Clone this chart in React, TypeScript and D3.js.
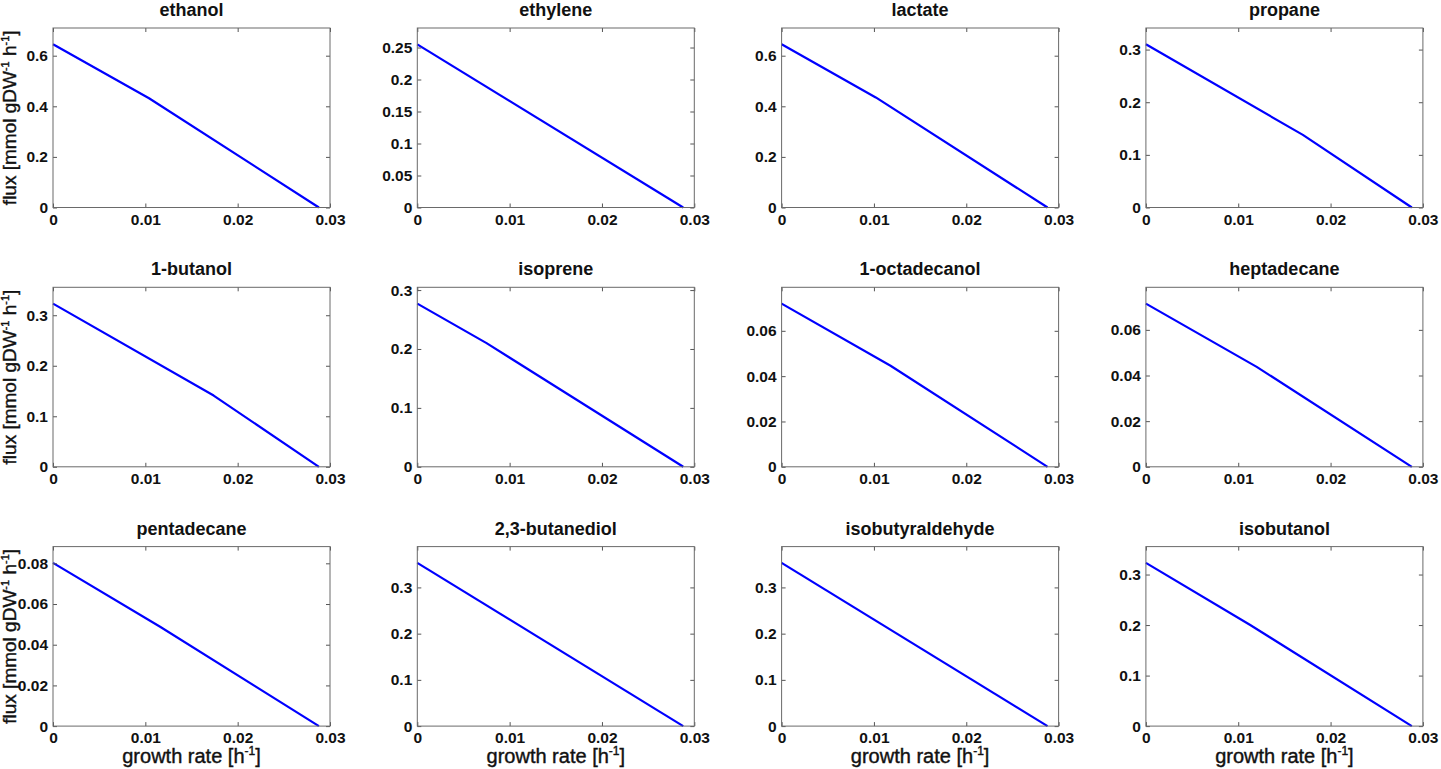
import React, { useEffect, useRef } from "react";
import * as d3 from "d3";

const products = [
  "ethanol", "ethylene", "lactate", "propane",
  "1-butanol", "isoprene", "1-octadecanol", "heptadecane",
  "pentadecane", "2,3-butanediol", "isobutyraldehyde", "isobutanol",
];

// growth rate [1/h] at each breakpoint of the curve
const growthRates: number[][] = [
  [0, 0.0104, 0.0288],
  [0, 0.0288],
  [0, 0.0102, 0.0288],
  [0, 0.017, 0.0288],
  [0, 0.0174, 0.0288],
  [0, 0.0075, 0.0288],
  [0, 0.0118, 0.0288],
  [0, 0.012, 0.0288],
  [0, 0.0116, 0.0288],
  [0, 0.0288],
  [0, 0.0288],
  [0, 0.0113, 0.0288],
];

// product flux [mmol/gDW/h] at those breakpoints
const fluxes: number[][] = [
  [0.645, 0.432, 0],
  [0.255, 0],
  [0.645, 0.435, 0],
  [0.31, 0.138, 0],
  [0.323, 0.141, 0],
  [0.277, 0.21, 0],
  [0.072, 0.0446, 0],
  [0.0715, 0.0438, 0],
  [0.0802, 0.0488, 0],
  [0.353, 0],
  [0.353, 0],
  [0.323, 0.2, 0],
];

const yTicks: number[][] = [
  [0, 0.2, 0.4, 0.6],
  [0, 0.05, 0.1, 0.15, 0.2, 0.25],
  [0, 0.2, 0.4, 0.6],
  [0, 0.1, 0.2, 0.3],
  [0, 0.1, 0.2, 0.3],
  [0, 0.1, 0.2, 0.3],
  [0, 0.02, 0.04, 0.06],
  [0, 0.02, 0.04, 0.06],
  [0, 0.02, 0.04, 0.06, 0.08],
  [0, 0.1, 0.2, 0.3],
  [0, 0.1, 0.2, 0.3],
  [0, 0.1, 0.2, 0.3],
];

const xTicks = [0, 0.01, 0.02, 0.03];
const xDomain: [number, number] = [0, 0.03];

const W = 1441;
const H = 769;
const FONT = "'Liberation Sans', Arial, Helvetica, sans-serif";

const App: React.FC = () => {
  const svgRef = useRef<SVGSVGElement>(null);

  useEffect(() => {
    if (!svgRef.current) return;
    const svg = d3.select(svgRef.current);
    svg.selectAll("*").remove();

    const left0 = 53, colStep = 364.3, pw = 277;
    const top0 = 28, rowStep = 259.3, ph = 179.5;
    const tickLen = 4;
    const fmt = (d: d3.NumberValue) => `${+(+d).toFixed(4)}`;

    products.forEach((name, i) => {
      const col = i % 4;
      const row = Math.floor(i / 4);
      const g = svg.append("g")
        .attr("transform", `translate(${left0 + col * colStep},${top0 + row * rowStep})`);

      const xs = growthRates[i];
      const ys = fluxes[i];
      const pts = xs.map((x, k) => [x, ys[k]] as [number, number]);

      const x = d3.scaleLinear().domain(xDomain).range([0, pw]);
      const y = d3.scaleLinear().domain([0, 1.1 * (d3.max(ys) ?? 1)]).range([ph, 0]);

      g.append("rect")
        .attr("width", pw).attr("height", ph)
        .attr("fill", "#fff");

      // line
      g.append("path")
        .datum(pts)
        .attr("fill", "none")
        .attr("stroke", "#0000ff")
        .attr("stroke-width", 2.2)
        .attr("stroke-linejoin", "round")
        .attr("d", d3.line<[number, number]>().x(d => x(d[0])).y(d => y(d[1])));

      const styleAxis = (sel: d3.Selection<SVGGElement, unknown, null, undefined>, labels: boolean) => {
        sel.select(".domain").remove();
        sel.selectAll(".tick line").attr("stroke", "#555");
        if (!labels) sel.selectAll(".tick text").remove();
        sel.selectAll(".tick text")
          .attr("fill", "#111")
          .style("font-family", FONT)
          .style("font-size", "15.5px")
          .style("font-weight", "bold");
      };

      g.append("g")
        .attr("transform", `translate(0,${ph})`)
        .call(d3.axisBottom(x).tickValues(xTicks).tickFormat(fmt).tickSizeInner(-tickLen).tickSizeOuter(0).tickPadding(6))
        .call(s => styleAxis(s, true));
      g.append("g")
        .call(d3.axisTop(x).tickValues(xTicks).tickSizeInner(-tickLen).tickSizeOuter(0))
        .call(s => styleAxis(s, false));
      g.append("g")
        .call(d3.axisLeft(y).tickValues(yTicks[i]).tickFormat(fmt).tickSizeInner(-tickLen).tickSizeOuter(0).tickPadding(5))
        .call(s => styleAxis(s, true));
      g.append("g")
        .attr("transform", `translate(${pw},0)`)
        .call(d3.axisRight(y).tickValues(yTicks[i]).tickSizeInner(-tickLen).tickSizeOuter(0))
        .call(s => styleAxis(s, false));

      g.append("rect")
        .attr("width", pw).attr("height", ph)
        .attr("fill", "none")
        .attr("stroke", "#6a6a6a")
        .attr("stroke-width", 1);

      g.append("text")
        .attr("x", pw / 2)
        .attr("y", -12)
        .attr("text-anchor", "middle")
        .style("font-family", FONT)
        .style("font-size", "18px")
        .style("font-weight", "bold")
        .attr("fill", "#111")
        .text(name);

      if (col === 0) {
        const t = g.append("text")
          .attr("transform", `translate(${-37},${ph / 2}) rotate(-90)`)
          .attr("text-anchor", "middle")
          .style("font-family", FONT)
          .style("font-size", "19px")
          .attr("fill", "#111")
          .attr("stroke", "#111")
          .attr("stroke-width", 0.4);
        t.append("tspan").text("flux [mmol gDW");
        t.append("tspan").attr("dy", -7).style("font-size", "11px").text("-1");
        t.append("tspan").attr("dy", 7).text(" h");
        t.append("tspan").attr("dy", -7).style("font-size", "11px").text("-1");
        t.append("tspan").attr("dy", 7).text("]");
      }

      if (row === 2) {
        const t = g.append("text")
          .attr("x", pw / 2)
          .attr("y", ph + 37)
          .attr("text-anchor", "middle")
          .style("font-family", FONT)
          .style("font-size", "20px")
          .attr("fill", "#111")
          .attr("stroke", "#111")
          .attr("stroke-width", 0.4);
        t.append("tspan").text("growth rate [h");
        t.append("tspan").attr("dy", -8).style("font-size", "12px").text("-1");
        t.append("tspan").attr("dy", 8).text("]");
      }
    });
  }, []);

  return (
    <div style={{ position: "absolute", left: 0, top: 0, background: "#fff" }}>
      <svg ref={svgRef} width={W} height={H} style={{ display: "block" }} />
    </div>
  );
};

export default App;
